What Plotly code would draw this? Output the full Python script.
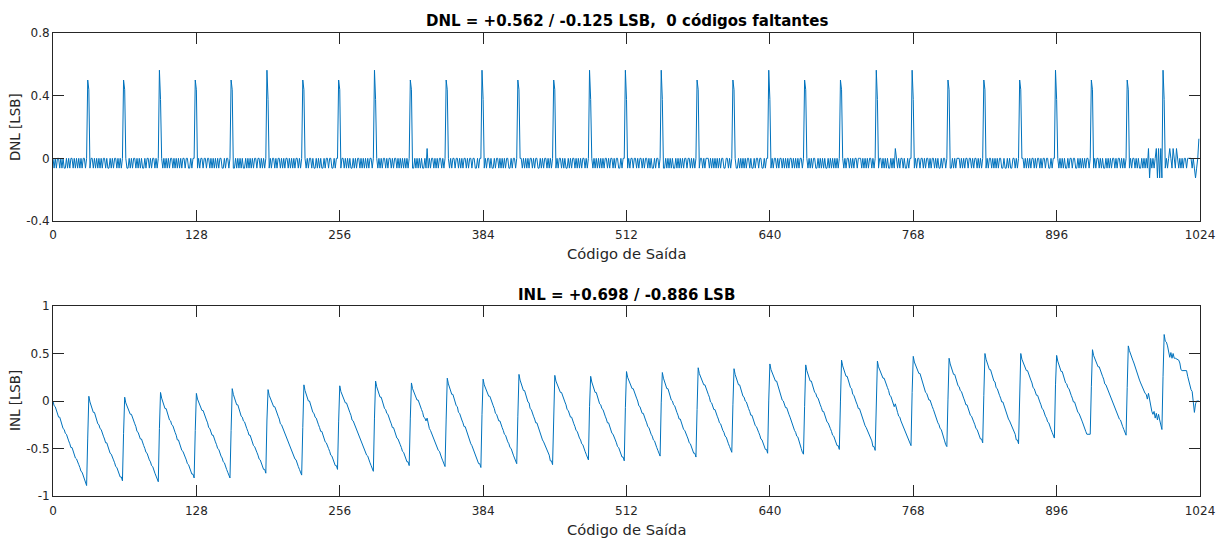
import plotly.graph_objects as go

# ---------------- data ----------------
# DNL per output code, one 32-code block per string (spaces only group the text).
# level codes: 0 -> 0, '-' -> -0.0625, '+' -> +0.0625, '=' -> -0.125, '#' -> +0.125,
#              A -> 0.5, B -> 0.5625, a -> 0.4375, b -> 0.375
dnl_blocks = [
    "0-0-00-0 -0--0-0- 00-0-0-0 -0-00-0A",
    "a-00-0-0 -0-0-00- 0--0-0-0 0-0-0-0A",
    "a0--0-0- 00-0-0-0 --0-00-0 -00-0-0B",
    "b0-0-0-0 -00-0-0- 0-0-00-0 0--0-00A",
    "a-0-00-0 0-00-0-0 -0-0-00- -0-00-0A",
    "a--0-0-0 -0--0-0- 0-0-00-0 0-0-0-0B",
    "b-0-00-0 -00-0-0- 00-0-0-0 -00-0-0A",
    "a0-0-00- 0--0-0-0 --0-00-0 0--0-00A",
    "a-00-0-0 -0--0-0- 00-0-0-0 -0-00-0B",
    "b0-0-0-0 0-0-00-0 -00-0-0- 0-0-0-0A",
    "a--0-0-0 -0--0-+- 0-00-0-0 -00-0-0A",
    "a0-0-00- 00-0-0-0 0-0-00-0 0--0-00B",
    "b-0-00-0 --0-00-0 -0-0-00- -0-00-0A",
    "a00-0-0- 0-00-0-0 0--0-0-0 0-0-0-0A",
    "a-0-00-0 -0--0-0- 00-0-0-0 -00-0-0B",
    "b0-0-0-0 -0-0-00- 0-00-0-0 0--0-00B",
    "b-0-00-0 0-0-00-0 -00-0-0- -0-00-0B",
    "b--0-0-0 -0--0-0- 0-0-00-0 0-0-0-0A",
    "a-00-0-0 00-0-0-0 -0-0-00- -00-0-0A",
    "a0--0-0- 0-0-00-0 --0-00-0 0--0-00B",
    "b-0-00-0 -00-0-0- 0-00-0-0 -0-00-0A",
    "a0-0-0-0 0--0-0-0 -0--0-0- 0-0-0-0A",
    "a0-0-00- 0-0-00-0 00-0-0-0 -00-0-0B",
    "b-00-0-0 -0--0-0- +0-0-00- 0--0-00B",
    "b-0-00-0 0-0-00-0 -00-0-0- -0-00-0A",
    "a--0-0-0 00-0-0-0 0-00-0-0 0-0-0-0A",
    "a-0-00-0 -0-0-00- -0--0-0- -00-0-0A",
    "a00-0-0- 0-00-0-0 0-0-00-0 0--0-00B",
    "b0-0-0-0 --0-00-0 0--0-0-0 -0-00-0A",
    "a-0-00-0 -0--0-0- 0-00-0-0 0-0-0-0A",
    "a-0-00-0 -0--0-0- 0-+=0-0- 0+=+=+=B",
    "b-0-0+0- +0-+0-0- 0-00-000 0-0-=-0#",
]
dnl_levels = {"0": 0.0, "-": -0.0625, "+": 0.0625, "=": -0.125, "#": 0.125,
              "A": 0.5, "B": 0.5625, "a": 0.4375, "b": 0.375}

# INL per output code, in hundredths of an LSB (one line per sawtooth segment)
inl_centi = [
    0, -5, -6, -10, -12, -17, -17, -21, -24, -29, -30, -34, -35, -40, -42, -45, -49, -49, -53, -55, -60, -61, -65, -67, -70, -74, -75, -79, -81, -85, -89,
    -39, 5, -1, -5, -7, -12, -12, -16, -19, -24, -25, -29, -30, -35, -37, -40, -44, -44, -48, -50, -55, -56, -60, -62, -65, -69, -70, -74, -76, -80, -80, -84,
    -34, 4, -2, -5, -6, -11, -14, -14, -18, -22, -24, -27, -32, -33, -36, -40, -40, -45, -47, -50, -54, -55, -59, -62, -64, -68, -69, -74, -76, -79, -83, -85,
    -29, 9, 3, -1, -3, -8, -8, -12, -15, -20, -21, -25, -26, -31, -33, -36, -41, -41, -45, -47, -52, -53, -57, -59, -62, -66, -67, -71, -73, -77, -77, -81,
    -31, 8, 2, -1, -2, -7, -10, -10, -14, -18, -20, -23, -28, -29, -32, -36, -36, -41, -43, -46, -50, -51, -55, -58, -60, -64, -65, -70, -72, -75, -79, -81,
    -31, 13, 7, 3, 1, -4, -4, -8, -11, -16, -17, -21, -22, -27, -29, -32, -36, -36, -40, -42, -47, -48, -52, -54, -57, -61, -62, -66, -68, -72, -72, -76,
    -20, 12, 6, 3, 2, -3, -6, -6, -10, -14, -16, -19, -24, -25, -28, -32, -33, -38, -40, -43, -47, -48, -52, -55, -57, -61, -62, -67, -69, -72, -76, -78,
    -28, 17, 11, 7, 5, 0, 0, -4, -7, -12, -13, -17, -18, -23, -25, -28, -32, -32, -36, -38, -43, -44, -48, -50, -53, -57, -58, -62, -64, -68, -68, -72,
    -22, 16, 10, 7, 6, 1, -2, -2, -6, -10, -12, -15, -20, -21, -24, -28, -29, -34, -36, -39, -43, -44, -48, -51, -53, -57, -58, -63, -65, -68, -72, -74,
    -18, 21, 15, 11, 9, 4, 4, 0, -3, -8, -9, -13, -14, -19, -21, -24, -28, -28, -32, -34, -39, -40, -44, -46, -49, -53, -54, -58, -60, -64, -64, -68,
    -18, 19, 13, 10, 9, 4, 1, 1, -3, -7, -9, -12, -17, -18, -21, -18, -25, -29, -31, -34, -38, -39, -43, -46, -48, -52, -53, -58, -60, -63, -67, -69,
    -19, 24, 18, 14, 12, 7, 7, 3, 0, -5, -6, -12, -13, -18, -20, -23, -27, -27, -31, -33, -38, -41, -45, -47, -50, -54, -55, -59, -61, -66, -66, -70,
    -14, 23, 17, 14, 13, 8, 5, 5, 1, -3, -5, -8, -13, -14, -17, -21, -21, -26, -28, -31, -35, -36, -40, -43, -45, -49, -50, -55, -57, -60, -64, -66,
    -16, 28, 22, 18, 16, 11, 11, 7, 4, -1, -2, -8, -9, -14, -16, -19, -23, -23, -27, -29, -34, -37, -41, -43, -46, -50, -51, -55, -57, -63, -63, -67,
    -17, 27, 21, 18, 17, 12, 9, 9, 5, 1, -1, -4, -9, -10, -13, -17, -17, -22, -24, -27, -31, -32, -36, -39, -41, -45, -46, -51, -53, -56, -60, -62,
    -6, 26, 20, 16, 14, 9, 9, 5, 2, -3, -4, -8, -9, -14, -16, -19, -23, -23, -27, -29, -34, -35, -39, -41, -44, -48, -49, -53, -55, -59, -59, -63,
    -7, 31, 25, 22, 21, 16, 13, 13, 9, 5, 3, 0, -5, -6, -9, -13, -13, -18, -20, -23, -27, -28, -32, -35, -37, -41, -42, -47, -49, -52, -56, -58,
    -2, 30, 24, 20, 18, 13, 13, 9, 6, 1, 0, -4, -5, -10, -12, -15, -19, -19, -23, -25, -30, -31, -35, -37, -40, -44, -45, -49, -51, -55, -55, -59,
    -9, 35, 29, 26, 25, 20, 17, 17, 13, 9, 7, 4, -1, -2, -5, -9, -9, -14, -16, -19, -23, -24, -28, -31, -33, -37, -38, -43, -45, -48, -52, -54,
    -4, 34, 28, 24, 22, 17, 17, 13, 10, 5, 4, 0, -1, -6, -8, -11, -15, -15, -19, -21, -26, -27, -31, -33, -36, -40, -41, -45, -47, -51, -51, -55,
    1, 39, 33, 30, 29, 24, 21, 21, 17, 13, 11, 6, 1, 0, -3, -7, -7, -12, -14, -17, -21, -24, -28, -31, -33, -37, -38, -43, -45, -50, -54, -56,
    -6, 38, 32, 28, 26, 21, 21, 17, 14, 9, 8, 4, 3, -2, -4, -7, -11, -11, -15, -17, -22, -23, -27, -29, -32, -36, -37, -41, -43, -47, -47, -51,
    -1, 43, 37, 33, 31, 26, 26, 22, 19, 14, 13, 7, 6, 1, -1, -4, -8, -8, -12, -14, -19, -22, -26, -28, -31, -35, -36, -40, -42, -48, -48, -52,
    4, 42, 36, 33, 32, 27, 24, 24, 20, 16, 14, 11, 6, 5, 2, -2, -6, -3, -9, -12, -16, -17, -21, -24, -26, -30, -31, -36, -38, -41, -45, -47,
    9, 47, 41, 38, 37, 32, 29, 29, 25, 21, 19, 14, 9, 8, 5, 1, 1, -4, -6, -9, -13, -16, -20, -23, -25, -29, -30, -35, -37, -42, -46, -48,
    2, 45, 39, 35, 33, 28, 28, 24, 21, 16, 15, 11, 10, 5, 3, 0, -4, -4, -8, -10, -15, -16, -20, -22, -25, -29, -30, -34, -36, -40, -40, -44,
    6, 50, 44, 40, 38, 33, 33, 29, 26, 21, 20, 14, 13, 8, 6, 3, -1, -1, -5, -7, -12, -15, -19, -21, -24, -28, -29, -33, -35, -41, -41, -45,
    5, 50, 44, 41, 40, 35, 32, 32, 28, 24, 22, 19, 14, 13, 10, 6, 6, 1, -1, -4, -8, -9, -13, -16, -18, -22, -23, -28, -30, -33, -37, -39,
    17, 48, 42, 38, 36, 31, 31, 27, 24, 19, 18, 14, 13, 8, 6, 3, -1, -1, -5, -7, -12, -13, -17, -19, -22, -26, -29, -32, -35, -35, -35, -35,
    15, 54, 48, 45, 44, 39, 36, 36, 32, 28, 26, 23, 18, 17, 14, 10, 9, 4, 2, -1, -5, -6, -10, -13, -15, -19, -20, -25, -27, -30, -34, -36,
    14, 58, 53, 49, 46, 43, 40, 36, 33, 30, 26, 22, 19, 16, 13, 10, 8, 7, 2, 8, 1, -4, -11, -14, -11, -18, -13, -20, -14, -20, -24, -30,
    26, 70, 63, 62, 58, 53, 46, 51, 45, 50, 45, 45, 44, 43, 43, 40, 33, 32, 32, 32, 32, 32, 26, 20, 16, 12, 10, 1, -12, -3, 0, 0, 0,
]

x_tick_vals = [0, 128, 256, 384, 512, 640, 768, 896, 1024]
x_tick_text = ["0", "128", "256", "384", "512", "640", "768", "896", "1024"]
dnl_tick_vals = [-0.4, 0, 0.4, 0.8]
dnl_tick_text = ["-0.4", "0", "0.4", "0.8"]
inl_tick_vals = [-1, -0.5, 0, 0.5, 1]
inl_tick_text = ["-1", "-0.5", "0", "0.5", "1"]

dnl_title = "DNL = +0.562 / -0.125 LSB,\u00a0 0 códigos faltantes"
inl_title = "INL = +0.698 / -0.886 LSB"
x_label = "Código de Saída"

# ---------------- decode ----------------
dnl = [dnl_levels[c] for blk in dnl_blocks for c in blk.replace(" ", "")]
inl = [v / 100.0 for v in inl_centi]
codes = list(range(len(dnl)))
assert len(dnl) == 1024, len(dnl)
assert len(inl) == 1024, len(inl)

# ---------------- figure ----------------
W, H = 1228, 538
ML, MR = 53, 28
PW = W - ML - MR
FONT = "DejaVu Sans"
AX = "#262626"
BLUE = "#0072BD"


def px_x(px):
    return (px - ML) / PW


def px_y(py):
    return 1 - py / H


fig = go.Figure()
fig.add_trace(go.Scatter(x=codes, y=dnl, mode="lines", line=dict(color=BLUE, width=1),
                         xaxis="x", yaxis="y", hoverinfo="skip"))
fig.add_trace(go.Scatter(x=codes, y=inl, mode="lines", line=dict(color=BLUE, width=1),
                         xaxis="x2", yaxis="y2", hoverinfo="skip"))

common = dict(showgrid=False, zeroline=False, showline=True, linecolor=AX, linewidth=1,
              mirror="allticks", ticks="inside", ticklen=11, tickwidth=1, tickcolor=AX,
              tickfont=dict(family=FONT, size=12, color=AX), automargin=False)

fig.update_layout(
    width=W, height=H, autosize=False,
    margin=dict(l=ML, r=MR, t=0, b=0, pad=0, autoexpand=False),
    paper_bgcolor="white", plot_bgcolor="white", showlegend=False,
    xaxis=dict(domain=[0, 1], anchor="y", range=[0, 1024], tickmode="array",
               tickvals=x_tick_vals, ticktext=x_tick_text, ticklabelstandoff=3, **common),
    yaxis=dict(domain=[px_y(221), px_y(33)], anchor="x", range=[-0.4, 0.8], tickmode="array",
               tickvals=dnl_tick_vals, ticktext=dnl_tick_text, **common),
    xaxis2=dict(domain=[0, 1], anchor="y2", range=[0, 1024], tickmode="array",
                tickvals=x_tick_vals, ticktext=x_tick_text, ticklabelstandoff=4, **common),
    yaxis2=dict(domain=[px_y(496), px_y(306)], anchor="x2", range=[-1, 1], tickmode="array",
                tickvals=inl_tick_vals, ticktext=inl_tick_text, **common),
)

ann = []
ann.append(dict(text="<b>" + dnl_title + "</b>", x=0.5, y=px_y(21), xref="paper", yref="paper",
                showarrow=False, xanchor="center", yanchor="middle",
                font=dict(family=FONT, size=15, color="black")))
ann.append(dict(text="<b>" + inl_title + "</b>", x=0.5, y=px_y(295), xref="paper", yref="paper",
                showarrow=False, xanchor="center", yanchor="middle",
                font=dict(family=FONT, size=15, color="black")))
for yy in (253, 529):
    ann.append(dict(text=x_label, x=0.5, y=px_y(yy), xref="paper", yref="paper",
                    showarrow=False, xanchor="center", yanchor="middle",
                    font=dict(family=FONT, size=14.7, color=AX)))
ann.append(dict(text="DNL [LSB]", x=px_x(15), y=px_y(127), xref="paper", yref="paper",
                showarrow=False, xanchor="center", yanchor="middle", textangle=-90,
                font=dict(family=FONT, size=13.4, color=AX)))
ann.append(dict(text="INL [LSB]", x=px_x(15), y=px_y(401), xref="paper", yref="paper",
                showarrow=False, xanchor="center", yanchor="middle", textangle=-90,
                font=dict(family=FONT, size=13.4, color=AX)))
fig.update_layout(annotations=ann)

fig.write_html("out.html")
